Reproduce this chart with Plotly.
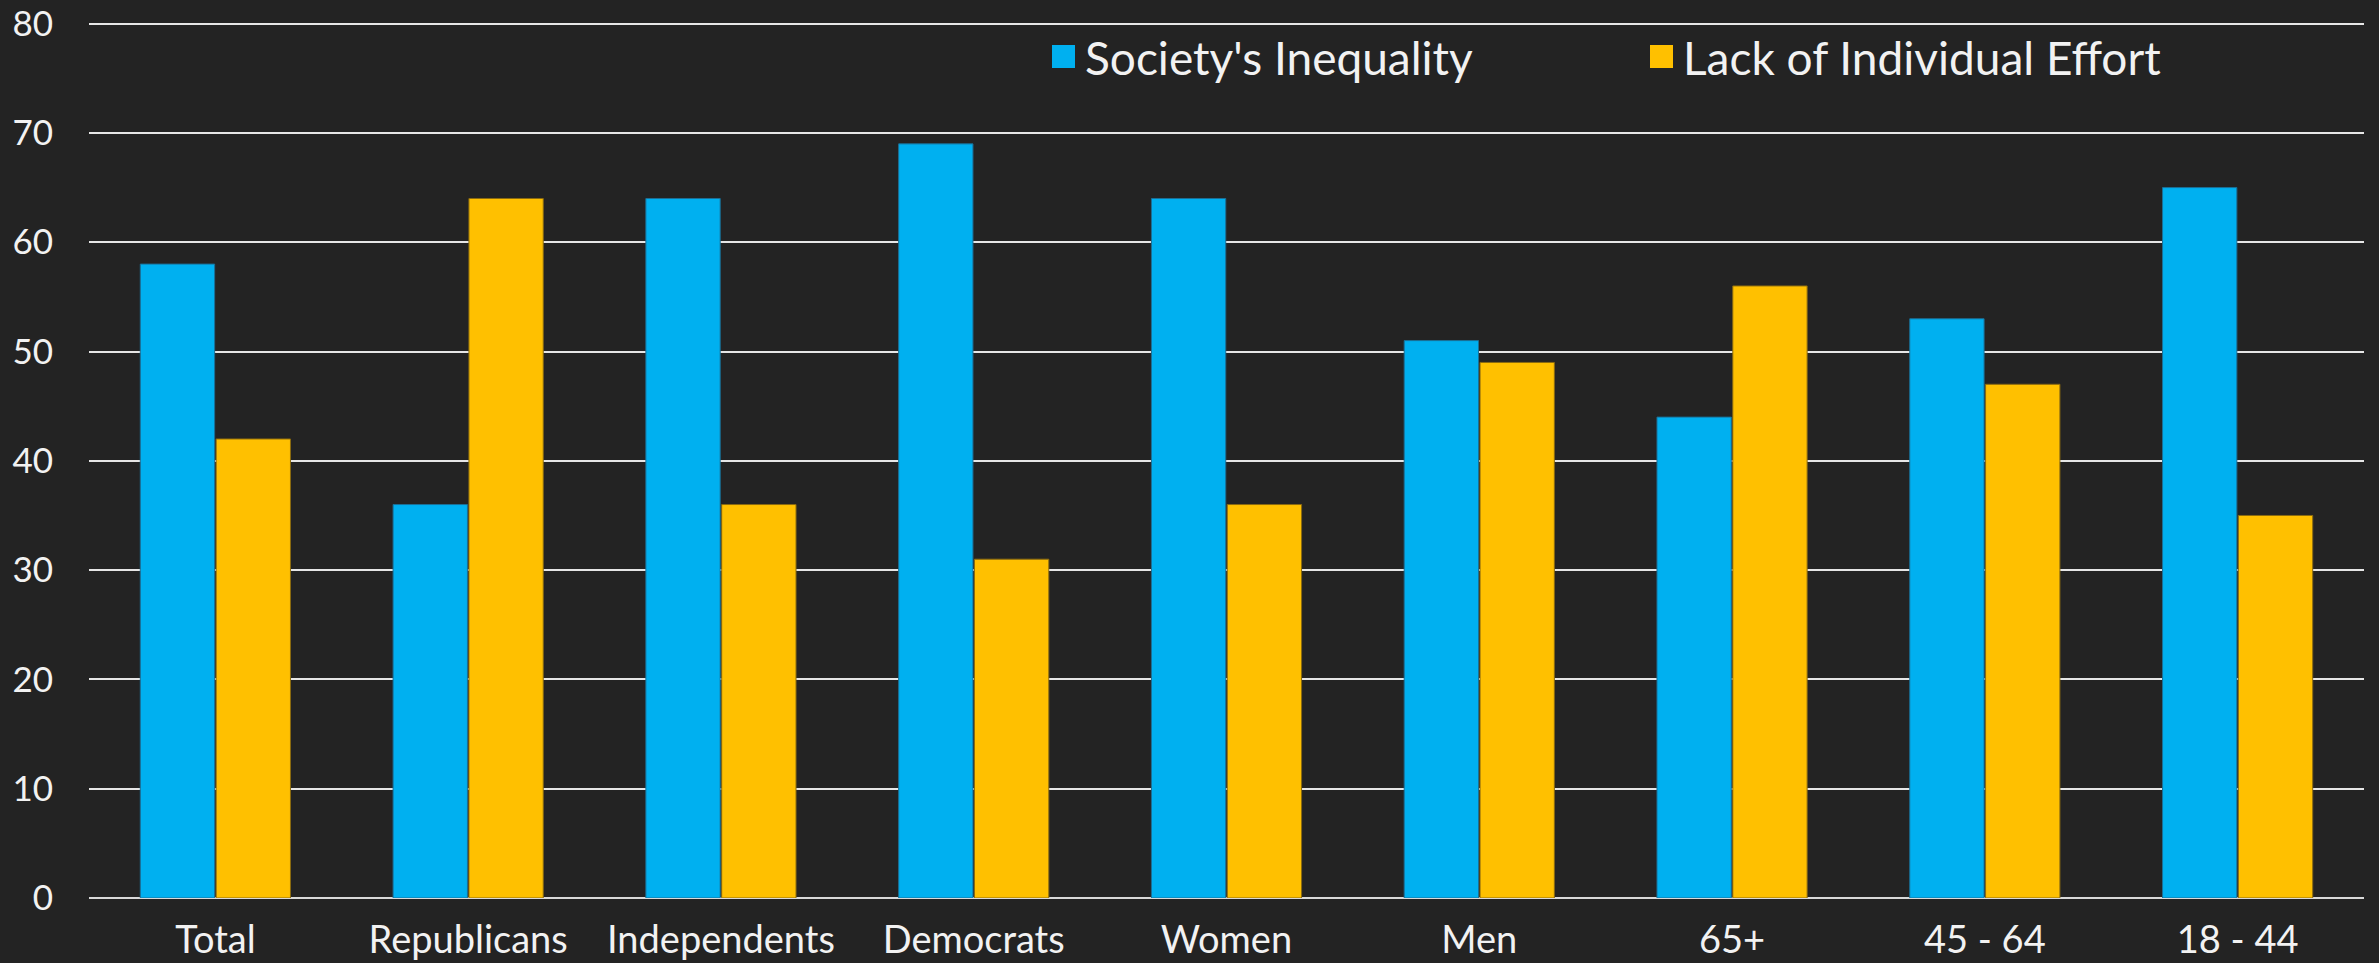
import plotly.graph_objects as go

categories = ["Total", "Republicans", "Independents", "Democrats", "Women", "Men", "65+", "45 - 64", "18 - 44"]
series_names = ["Society's Inequality", "Lack of Individual Effort"]
inequality = [58, 36, 64, 69, 64, 51, 44, 53, 65]
effort = [42, 64, 36, 31, 36, 49, 56, 47, 35]
y_ticks = [0, 10, 20, 30, 40, 50, 60, 70, 80]

BLUE = "#00B0F0"
YELLOW = "#FFC000"
FONT = "Lato"
W, H = 2379, 963
ML, MR, MT, MB = 89, 15, 22, 65
pw = W - ML - MR
ph = H - MT - MB

fig = go.Figure()
fig.add_trace(go.Bar(x=categories, y=inequality, name=series_names[0],
                     marker=dict(color=BLUE, line=dict(color="#1b6f96", width=1)),
                     showlegend=False))
fig.add_trace(go.Bar(x=categories, y=effort, name=series_names[1],
                     marker=dict(color=YELLOW, line=dict(color="#8a6a10", width=1)),
                     showlegend=False))

# manual legend (pixel positions converted to paper coords)
def px_x(x):
    return (x - ML) / pw

def px_y(y):
    return 1 - (y - MT) / ph

legend_items = [(series_names[0], BLUE, 1052), (series_names[1], YELLOW, 1650)]
for name, col, x0 in legend_items:
    fig.add_shape(type="rect", xref="paper", yref="paper",
                  x0=px_x(x0), x1=px_x(x0 + 23), y0=px_y(68), y1=px_y(45),
                  fillcolor=col, line=dict(width=0), layer="above")
    fig.add_annotation(xref="paper", yref="paper", x=px_x(x0 + 31), y=px_y(57),
                       xanchor="left", yanchor="middle", text=name, showarrow=False,
                       font=dict(family=FONT, size=46, color="#f2f2f2"))

fig.update_layout(
    template="none",
    width=W, height=H,
    margin=dict(l=ML, r=MR, t=MT, b=MB, pad=0),
    paper_bgcolor="#232323",
    plot_bgcolor="rgba(0,0,0,0)",
    barmode="group",
    bargap=0.4,
    bargroupgap=0.02,
    font=dict(family=FONT, color="#f2f2f2"),
    xaxis=dict(showgrid=False, showline=False, ticks="", automargin=False,
               tickfont=dict(family=FONT, size=38, color="#f2f2f2"),
               ticklabelstandoff=16, ticklabeloverflow="allow", fixedrange=True),
    yaxis=dict(range=[0, 80.15], tickvals=y_ticks, showgrid=True, automargin=False,
               gridcolor="#e6e6e6", gridwidth=2, zeroline=True,
               zerolinecolor="#d9d9d9", zerolinewidth=2, showline=False,
               ticks="", tickfont=dict(family=FONT, size=35, color="#f2f2f2"),
               ticklabelstandoff=35, ticklabeloverflow="allow", fixedrange=True),
)

fig.write_html("out.html", config={"displayModeBar": False})
